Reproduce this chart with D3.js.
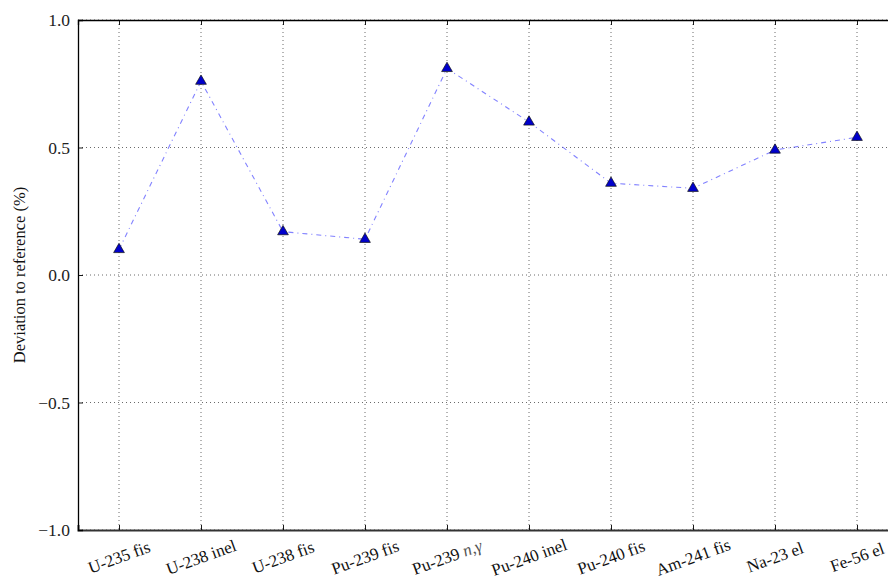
<!DOCTYPE html>
<html>
<head>
<meta charset="utf-8">
<script src="https://cdn.jsdelivr.net/npm/d3@7"></script>
<style>
  html, body { margin: 0; padding: 0; background: #fff; }
  svg { display: block; font-family: "Liberation Serif", serif; }
</style>
</head>
<body>
<svg id="chart" width="888" height="584"></svg>
<script>
// Reaction channels along the x axis
const categories = ["U-235 fis", "U-238 inel", "U-238 fis", "Pu-239 fis", "Pu-239 n,γ",
                    "Pu-240 inel", "Pu-240 fis", "Am-241 fis", "Na-23 el", "Fe-56 el"];
// Deviation to reference, in percent
const deviations = [0.10, 0.76, 0.17, 0.14, 0.81, 0.60, 0.36, 0.34, 0.49, 0.54];
// Y tick values and their labels
const yTicks = [-1.0, -0.5, 0.0, 0.5, 1.0];
const yTickLabels = ["\u22121.0", "\u22120.5", "0.0", "0.5", "1.0"];

const svg = d3.select("#chart");
const plotLeft = 78, plotRight = 898, plotTop = 20, plotBottom = 530;

const x = d3.scaleLinear().domain([-0.5, categories.length - 0.5]).range([plotLeft, plotRight]);
const y = d3.scaleLinear().domain([-1, 1]).range([plotBottom, plotTop]);

const idx = d3.range(categories.length);

// Dotted grid
const grid = svg.append("g").attr("stroke", "#444").attr("stroke-width", 0.8)
  .attr("stroke-dasharray", "1,3");
grid.selectAll("line.v").data(idx).join("line").attr("class", "v")
  .attr("x1", d => x(d)).attr("x2", d => x(d))
  .attr("y1", plotTop).attr("y2", plotBottom);
grid.selectAll("line.h").data(yTicks).join("line").attr("class", "h")
  .attr("x1", plotLeft).attr("x2", plotRight)
  .attr("y1", d => y(d)).attr("y2", d => y(d));

// Axes with inward ticks
const xAxisBottom = d3.axisBottom(x).tickValues(idx).tickSize(-5).tickFormat("");
const xAxisTop = d3.axisTop(x).tickValues(idx).tickSize(-5).tickFormat("");
const yAxisLeft = d3.axisLeft(y).tickValues(yTicks).tickSize(-5).tickPadding(8)
  .tickFormat((d, i) => yTickLabels[i]);

const gb = svg.append("g").attr("transform", `translate(0,${plotBottom})`).call(xAxisBottom);
const gt = svg.append("g").attr("transform", `translate(0,${plotTop})`).call(xAxisTop);
const gl = svg.append("g").attr("transform", `translate(${plotLeft},0)`).call(yAxisLeft);

[gb, gt, gl].forEach(g => {
  g.select(".domain").attr("stroke", "#000").attr("stroke-width", 1.3);
  g.selectAll(".tick line").attr("stroke", "#000").attr("stroke-width", 0.9);
});
gb.select(".domain").attr("stroke", "#333").attr("stroke-width", 2);
gl.selectAll(".tick text").attr("font-size", 17.5).attr("fill", "#222")
  .attr("font-family", "Liberation Serif, serif");

// Rotated category labels
const labels = svg.append("g").attr("font-size", 17).attr("fill", "#111");
labels.selectAll("text").data(categories).join("text")
  .attr("transform", (d, i) => `translate(${x(i)},${plotBottom + 27}) rotate(-20)`)
  .attr("text-anchor", "middle")
  .attr("dy", "0.35em")
  .each(function (d) {
    const t = d3.select(this);
    if (d.includes("n,γ")) {
      t.append("tspan").text(d.replace(" n,γ", " "));
      t.append("tspan").attr("font-style", "italic").attr("fill", "#555").text("n,γ");
    } else {
      t.text(d);
    }
  });

// Y axis title
svg.append("text")
  .attr("transform", `translate(19,${(plotTop + plotBottom) / 2}) rotate(-90)`)
  .attr("text-anchor", "middle")
  .attr("dy", "0.35em")
  .attr("font-size", 16.5)
  .attr("fill", "#111")
  .text("Deviation to reference (%)");

// Dash-dot connecting line
const line = d3.line().x((d, i) => x(i)).y(d => y(d));
svg.append("path")
  .datum(deviations)
  .attr("d", line)
  .attr("fill", "none")
  .attr("stroke", "#4d4dff")
  .attr("stroke-opacity", 0.7)
  .attr("stroke-width", 1.1)
  .attr("stroke-dasharray", "5,4,1,4");

// Triangle markers
const tri = d3.symbol().type(d3.symbolTriangle).size(50);
svg.append("g").selectAll("path").data(deviations).join("path")
  .attr("d", tri)
  .attr("transform", (d, i) => `translate(${x(i)},${y(d)})`)
  .attr("fill", "#0000cc")
  .attr("stroke", "#111")
  .attr("stroke-width", 0.7);
</script>
</body>
</html>
